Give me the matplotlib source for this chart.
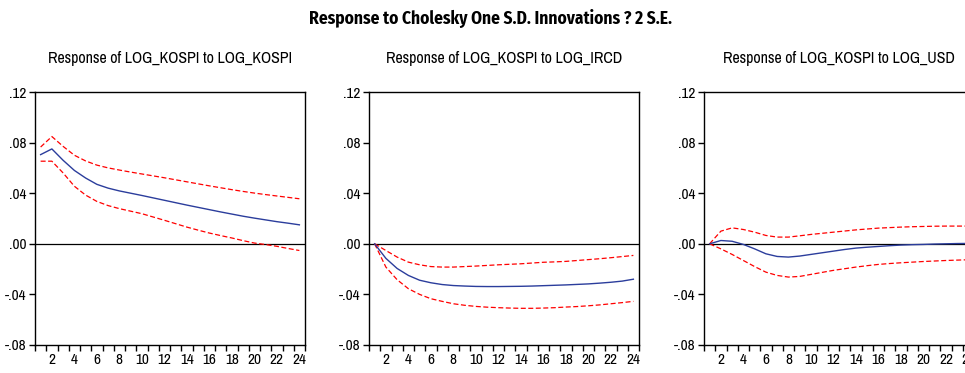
import numpy as np
import matplotlib
matplotlib.use('Agg')
import matplotlib.pyplot as plt
from matplotlib.ticker import FixedLocator, FuncFormatter

# narrow grotesque, close to the Arial Narrow used by EViews
plt.rcParams['font.family'] = ['Archivo Narrow', 'DejaVu Sans']
TITLE_FONT = ['Fira Sans Condensed', 'Barlow Condensed', 'Asap Condensed', 'DejaVu Sans']

# Periods 1..24
periods = list(range(1, 25))

# Response of LOG_KOSPI to LOG_KOSPI
kospi_resp = [0.0705, 0.0750, 0.0660, 0.0580, 0.0520, 0.0470, 0.0440, 0.0418, 0.0400, 0.0382,
              0.0363, 0.0344, 0.0325, 0.0306, 0.0288, 0.0270, 0.0252, 0.0235, 0.0218, 0.0203,
              0.0189, 0.0175, 0.0163, 0.0150]
kospi_upper = [0.0765, 0.0848, 0.0770, 0.0700, 0.0655, 0.0622, 0.0600, 0.0583, 0.0567, 0.0552,
               0.0537, 0.0522, 0.0506, 0.0490, 0.0474, 0.0458, 0.0443, 0.0428, 0.0414, 0.0401,
               0.0389, 0.0378, 0.0367, 0.0356]
kospi_lower = [0.0653, 0.0653, 0.0560, 0.0455, 0.0385, 0.0335, 0.0302, 0.0278, 0.0258, 0.0238,
               0.0212, 0.0186, 0.0159, 0.0132, 0.0108, 0.0085, 0.0065, 0.0046, 0.0025, 0.0006,
               -0.0006, -0.0020, -0.0037, -0.0053]

# Response of LOG_KOSPI to LOG_IRCD
ircd_resp = [0.0, -0.0115, -0.0195, -0.0250, -0.0288, -0.0308, -0.0322, -0.0330, -0.0334, -0.0337,
             -0.0338, -0.0338, -0.0337, -0.0336, -0.0334, -0.0331, -0.0328, -0.0325, -0.0321, -0.0317,
             -0.0311, -0.0304, -0.0295, -0.0280]
ircd_upper = [0.0, -0.0053, -0.0105, -0.0145, -0.0166, -0.0180, -0.0184, -0.0184, -0.0180, -0.0176,
              -0.0171, -0.0166, -0.0162, -0.0158, -0.0152, -0.0146, -0.0143, -0.0139, -0.0132, -0.0125,
              -0.0118, -0.0110, -0.0101, -0.0092]
ircd_lower = [0.0, -0.0184, -0.0284, -0.0355, -0.0400, -0.0434, -0.0455, -0.0474, -0.0486, -0.0495,
              -0.0501, -0.0505, -0.0508, -0.0510, -0.0510, -0.0508, -0.0505, -0.0500, -0.0496, -0.0490,
              -0.0483, -0.0474, -0.0465, -0.0455]

# Response of LOG_KOSPI to LOG_USD
usd_resp = [0.0, 0.0026, 0.0020, -0.0005, -0.0040, -0.0079, -0.0100, -0.0105, -0.0097, -0.0084,
            -0.0071, -0.0058, -0.0045, -0.0034, -0.0027, -0.0021, -0.0015, -0.0010, -0.0007, -0.0005,
            -0.0002, 0.0000, 0.0002, 0.0003]
usd_upper = [0.0, 0.0100, 0.0126, 0.0113, 0.0092, 0.0066, 0.0053, 0.0053, 0.0063, 0.0074,
             0.0083, 0.0092, 0.0101, 0.0110, 0.0117, 0.0124, 0.0128, 0.0132, 0.0135, 0.0137,
             0.0139, 0.0140, 0.0140, 0.0140]
usd_lower = [0.0, -0.0040, -0.0084, -0.0132, -0.0180, -0.0224, -0.0250, -0.0263, -0.0258, -0.0242,
             -0.0226, -0.0210, -0.0197, -0.0184, -0.0173, -0.0163, -0.0156, -0.0150, -0.0145, -0.0140,
             -0.0136, -0.0132, -0.0129, -0.0126]

titles = ['Response of LOG_KOSPI to LOG_KOSPI',
          'Response of LOG_KOSPI to LOG_IRCD',
          'Response of LOG_KOSPI to LOG_USD']
panels = [(kospi_resp, kospi_upper, kospi_lower),
          (ircd_resp, ircd_upper, ircd_lower),
          (usd_resp, usd_upper, usd_lower)]
y_ticks = [-0.08, -0.04, 0.0, 0.04, 0.08, 0.12]


def fmt_y(v, pos):
    s = f'{v:.2f}'
    return s.replace('0.', '.', 1)


fig = plt.figure(figsize=(9.65, 3.73), dpi=100)
lefts = [35 / 965, 369 / 965, 704 / 965]
width = 270 / 965
bottom = 1 - 345 / 373
height = 253 / 373

for left, title, (resp, up, lo) in zip(lefts, titles, panels):
    ax = fig.add_axes([left, bottom, width, height])
    ax.axhline(0, color='black', lw=0.9)
    ax.plot(periods, up, color='red', lw=0.9, ls=(0, (4, 2)))
    ax.plot(periods, lo, color='red', lw=0.9, ls=(0, (4, 2)))
    ax.plot(periods, resp, color='#2b3d9c', lw=1.0)
    ax.set_xlim(0.5, 24.5)
    ax.set_ylim(-0.08, 0.12)
    ax.set_yticks(y_ticks)
    ax.yaxis.set_major_formatter(FuncFormatter(fmt_y))
    ax.set_xticks(list(range(2, 25, 2)))
    ax.xaxis.set_minor_locator(FixedLocator(np.arange(0.5, 25, 1.0)))
    ax.tick_params(axis='x', which='major', length=0, labelsize=11, pad=6)
    ax.tick_params(axis='x', which='minor', length=4, width=1.0, direction='out')
    ax.tick_params(axis='y', length=4, width=1.0, labelsize=11, pad=2)
    for sp in ax.spines.values():
        sp.set_linewidth(1.0)
    fig.text(left + width / 2, 1 - 58 / 373, title, ha='center', va='center', fontsize=11.5)

fig.text(491 / 965, 1 - 19 / 373, 'Response to Cholesky One S.D. Innovations ? 2 S.E.',
         ha='center', va='center', fontsize=12.5, fontweight='bold', family=TITLE_FONT)

fig.savefig('out.png', dpi=100)
